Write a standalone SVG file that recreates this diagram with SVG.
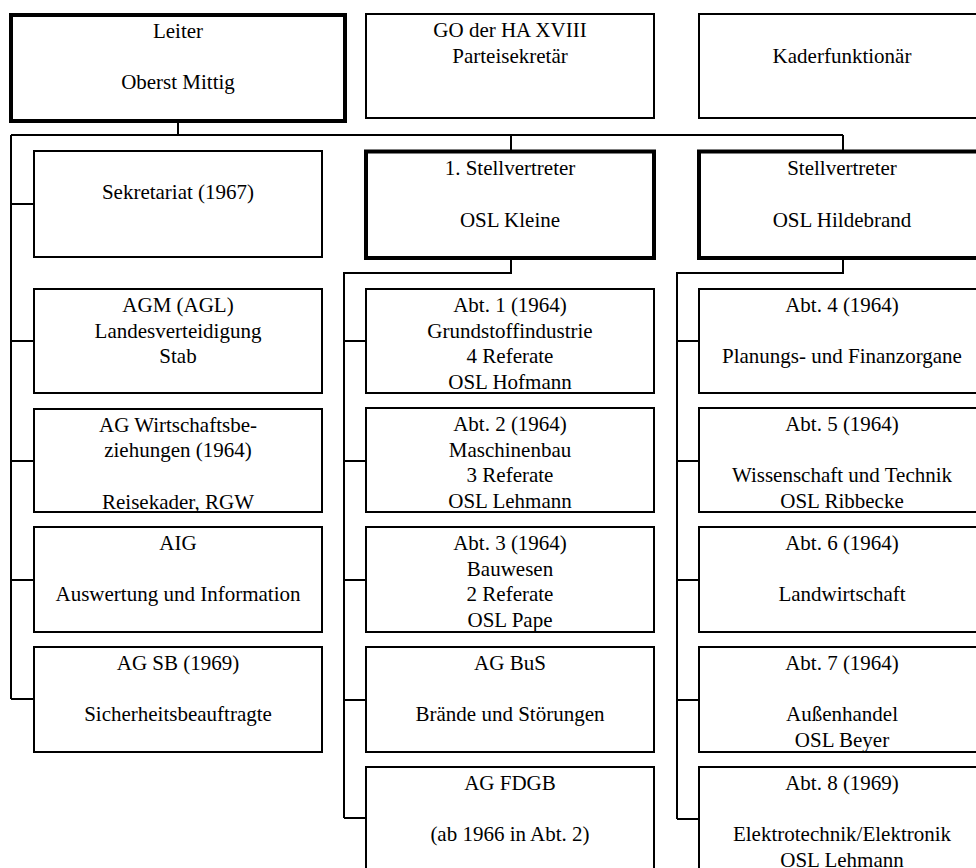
<svg xmlns="http://www.w3.org/2000/svg" width="976" height="868" viewBox="0 0 976 868">
<style>
.b{fill:#fff;stroke:#000;stroke-width:2}
.t{fill:#fff;stroke:#000;stroke-width:4}
.c{fill:none;stroke:#000;stroke-width:2}
text{font-family:"Liberation Serif","Times New Roman","DejaVu Serif",serif;font-size:21px;fill:#000;text-anchor:middle}
</style>
<rect width="976" height="868" fill="#fff"/>
<g id="connectors">
<path class="c" d="M178,121V135M11,135H843M511,135V150M843,135V150M11,135V699M11,204H34M11,341H34M11,461H34M11,580H34M11,699H34"/>
<path class="c" d="M511,260V273H344V818M344,341H366M344,461H366M344,580H366M344,700H366M344,818H366"/>
<path class="c" d="M843,260V273H677V819M677,341H699M677,461H699M677,580H699M677,700H699M677,819H699"/>
</g>
<g font-family="Liberation Serif, Times New Roman, serif">
<g id="leiter"><rect class="t" x="11" y="15" width="334" height="106"/><text x="178" y="37.7">Leiter<tspan x="178" dy="51.6">Oberst Mittig</tspan></text></g>
<g id="go"><rect class="b" x="366" y="14" width="288" height="104"/><text x="510" y="37.3">GO der HA XVIII<tspan x="510" dy="25.8">Parteisekretär</tspan></text></g>
<g id="kader"><rect class="b" x="699" y="14" width="290" height="104"/><text x="842" y="63.3">Kaderfunktionär</text></g>
<g id="sekretariat"><rect class="b" x="34" y="151" width="288" height="106"/><text x="178" y="199.3">Sekretariat (1967)</text></g>
<g id="stv1"><rect class="t" x="366" y="151.5" width="288" height="106.5"/><text x="510" y="175">1. Stellvertreter<tspan x="510" dy="51.6">OSL Kleine</tspan></text></g>
<g id="stv2"><rect class="t" x="699" y="151.5" width="290" height="106.5"/><text x="842" y="175">Stellvertreter<tspan x="842" dy="51.6">OSL Hildebrand</tspan></text></g>
<g id="agm"><rect class="b" x="34" y="289" width="288" height="104"/><text x="178" y="311.7">AGM (AGL)<tspan x="178" dy="25.8">Landesverteidigung</tspan><tspan x="178" dy="25.8">Stab</tspan></text></g>
<g id="agw"><rect class="b" x="34" y="409" width="288" height="103"/><text x="178" y="431.5">AG Wirtschaftsbe-<tspan x="178" dy="25.8">ziehungen (1964)</tspan><tspan x="178" dy="51.6">Reisekader, RGW</tspan></text></g>
<g id="aig"><rect class="b" x="34" y="527" width="288" height="105"/><text x="178" y="549.7">AIG<tspan x="178" dy="51.6">Auswertung und Information</tspan></text></g>
<g id="agsb"><rect class="b" x="34" y="647" width="288" height="105"/><text x="178" y="669.7">AG SB (1969)<tspan x="178" dy="51.6">Sicherheitsbeauftragte</tspan></text></g>
<g id="abt1"><rect class="b" x="366" y="289" width="288" height="104"/><text x="510" y="311.7">Abt. 1 (1964)<tspan x="510" dy="25.8">Grundstoffindustrie</tspan><tspan x="510" dy="25.8">4 Referate</tspan><tspan x="510" dy="25.8">OSL Hofmann</tspan></text></g>
<g id="abt2"><rect class="b" x="366" y="408" width="288" height="104"/><text x="510" y="430.7">Abt. 2 (1964)<tspan x="510" dy="25.8">Maschinenbau</tspan><tspan x="510" dy="25.8">3 Referate</tspan><tspan x="510" dy="25.8">OSL Lehmann</tspan></text></g>
<g id="abt3"><rect class="b" x="366" y="527" width="288" height="105"/><text x="510" y="549.7">Abt. 3 (1964)<tspan x="510" dy="25.8">Bauwesen</tspan><tspan x="510" dy="25.8">2 Referate</tspan><tspan x="510" dy="25.8">OSL Pape</tspan></text></g>
<g id="agbus"><rect class="b" x="366" y="647" width="288" height="105"/><text x="510" y="669.7">AG BuS<tspan x="510" dy="51.6">Brände und Störungen</tspan></text></g>
<g id="agfdgb"><rect class="b" x="366" y="767" width="288" height="110"/><text x="510" y="789.7">AG FDGB<tspan x="510" dy="51.6">(ab 1966 in Abt. 2)</tspan></text></g>
<g id="abt4"><rect class="b" x="699" y="289" width="290" height="104"/><text x="842" y="311.7">Abt. 4 (1964)<tspan x="842" dy="51.6">Planungs- und Finanzorgane</tspan></text></g>
<g id="abt5"><rect class="b" x="699" y="408" width="290" height="104"/><text x="842" y="430.7">Abt. 5 (1964)<tspan x="842" dy="51.6">Wissenschaft und Technik</tspan><tspan x="842" dy="25.8">OSL Ribbecke</tspan></text></g>
<g id="abt6"><rect class="b" x="699" y="527" width="290" height="105"/><text x="842" y="549.7">Abt. 6 (1964)<tspan x="842" dy="51.6">Landwirtschaft</tspan></text></g>
<g id="abt7"><rect class="b" x="699" y="647" width="290" height="105"/><text x="842" y="669.7">Abt. 7 (1964)<tspan x="842" dy="51.6">Außenhandel</tspan><tspan x="842" dy="25.8">OSL Beyer</tspan></text></g>
<g id="abt8"><rect class="b" x="699" y="767" width="290" height="110"/><text x="842" y="789.7">Abt. 8 (1969)<tspan x="842" dy="51.6">Elektrotechnik/Elektronik</tspan><tspan x="842" dy="25.8">OSL Lehmann</tspan></text></g>
</g>
</svg>
